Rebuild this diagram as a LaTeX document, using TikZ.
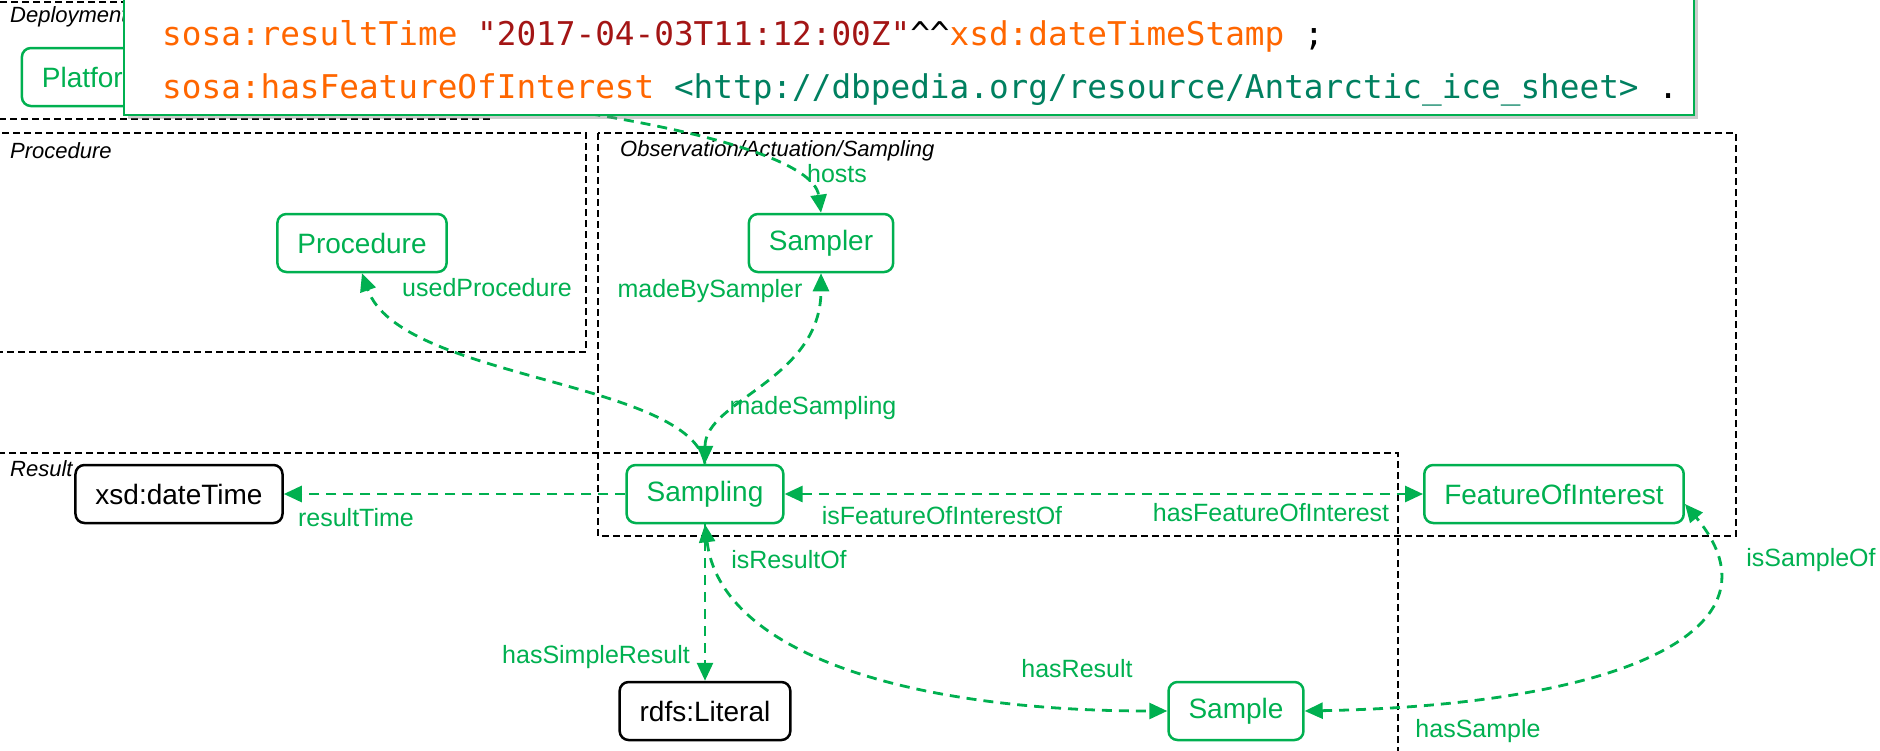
\documentclass[tikz,border=0pt]{standalone}
\usepackage{fontspec}
\setmainfont{Liberation Sans}
\newfontfamily\codefont{DejaVu Sans Mono}
\usetikzlibrary{arrows.meta,shadows}
\definecolor{sosagreen}{RGB}{0,176,80}
\definecolor{kworange}{RGB}{255,102,0}
\definecolor{strred}{RGB}{163,21,21}
\definecolor{urigreen}{RGB}{0,128,96}
\tikzset{
    cls/.style={draw=sosagreen, text=sosagreen, rounded corners=9pt, line width=2.5pt,
        minimum height=58pt, inner xsep=20pt, font=\fontsize{28}{28}\selectfont},
    dtype/.style={cls, draw=black, text=black},
    rel/.style={sosagreen, line width=2.8pt, dash pattern=on 10pt off 7pt,
        >={Triangle[length=18pt,width=16pt]}},
    lbl/.style={text=sosagreen, inner sep=0pt, font=\fontsize{25}{25}\selectfont},
    grp/.style={draw, line width=2.3pt, dash pattern=on 7pt off 4pt},
    grplbl/.style={anchor=west, inner sep=0pt, font=\fontsize{22}{22}\selectfont\itshape},
    codeline/.style={anchor=west, inner sep=0pt, font=\codefont\fontsize{32.7}{40}\selectfont},
}
\begin{document}
\begin{tikzpicture}[x=1pt, y=-1pt]
        \useasboundingbox (0,0) rectangle (1880,750);
        \draw [grp] (-5,2) rectangle (489,119);
        \draw [grp] (-5,133) rectangle (586,352);
        \draw [grp] (598,133) rectangle (1736,536);
        \draw [grp] (-5,453) rectangle (1398,760);
        \node [grplbl] (gdep) at (10,17) {Deployment};
        \node [grplbl] (gproc) at (10,151) {Procedure};
        \node [grplbl] (gobs) at (620,151) {Observation/Actuation/Sampling};
        \node [grplbl] (gres) at (10,469) {Result};
        \node [cls] (plat) at (94,77) {Platform};
        \node [cls] (smplr) at (821,243) {Sampler};
        \draw [rel,->] (plat.east) .. controls (420,80) and (810,130) .. (smplr.north);
        \node [draw=sosagreen, fill=white, line width=2pt, minimum width=1570pt, minimum height=134pt,
            anchor=north west, drop shadow={shadow xshift=4pt, shadow yshift=-4pt, opacity=.4}]
            (codebox) at (123,-20) {};
        \node [codeline] (l1) at (162,36) {\textcolor{kworange}{sosa:resultTime} \textcolor{strred}{"2017-04-03T11:12:00Z"}\textasciicircum\textasciicircum\textcolor{kworange}{xsd:dateTimeStamp} ;};
        \node [codeline] (l2) at (162,90) {\textcolor{kworange}{sosa:hasFeatureOfInterest} \textcolor{urigreen}{<http://dbpedia.org/resource/Antarctic\_ice\_sheet>} .};
        \node [cls] (proc) at (362,243) {Procedure};
        \node [cls] (smpl) at (705,494) {Sampling};
        \node [cls] (foi) at (1554,494) {FeatureOfInterest};
        \node [dtype] (dt) at (179,494) {xsd:dateTime};
        \node [dtype] (lit) at (705,711) {rdfs:Literal};
        \node [cls] (sample) at (1236,711) {Sample};
        \draw [rel,<->] (smpl.north) .. controls (705,400) and (821,380) .. (smplr.south);
        \draw [rel,->] (smpl.north) .. controls (690,380) and (400,380) .. (proc.south);
        \draw [rel,->] (smpl.west) -- (dt.east);
        \draw [rel,<->] (smpl.east) -- (foi.west);
        \draw [rel,->] (smpl.south) -- (lit.north);
        \draw [rel,<->] (smpl.south) .. controls (720,650) and (900,711) .. (sample.west);
        \draw [rel,<->] (sample.east) .. controls (1620,705) and (1790,630) .. ([yshift=-10pt]foi.east);
        \node [lbl] (lhosts) at (837,174) {hosts};
        \node [lbl] (lmbs) at (710,291) {madeBySampler};
        \node [lbl] (lms) at (813,408) {madeSampling};
        \node [lbl] (lused) at (487,288) {usedProcedure};
        \node [lbl] (lrt) at (356,518) {resultTime};
        \node [lbl] (lifoi) at (942,516) {isFeatureOfInterestOf};
        \node [lbl] (lhfoi) at (1271,513) {hasFeatureOfInterest};
        \node [lbl] (lhsr) at (596,657) {hasSimpleResult};
        \node [lbl] (liro) at (789,560) {isResultOf};
        \node [lbl] (lhr) at (1077,669) {hasResult};
        \node [lbl] (liso) at (1811,560) {isSampleOf};
        \node [lbl] (lhs) at (1478,731) {hasSample};
\end{tikzpicture}
\end{document}
